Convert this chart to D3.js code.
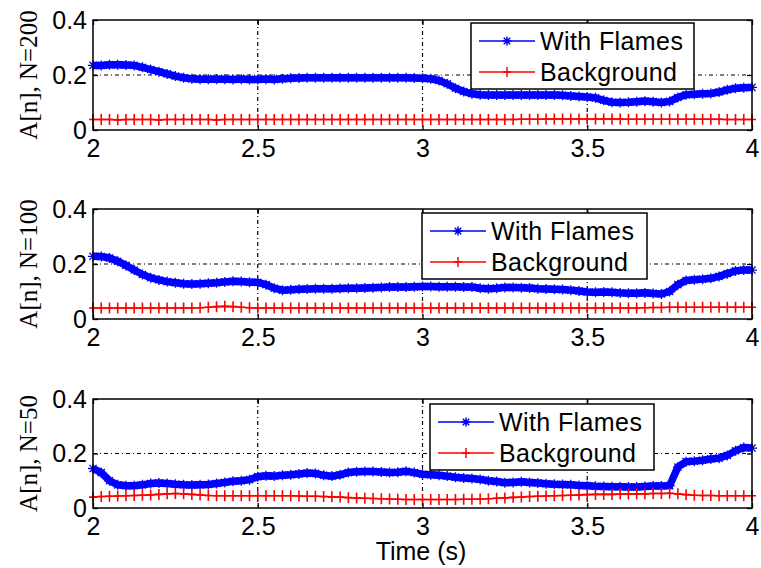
<!DOCTYPE html>
<html lang="en">
<head>
<meta charset="utf-8">
<title>A[n] with flames vs background</title>
<script src="https://cdn.jsdelivr.net/npm/d3@7"></script>
<style>
  body { margin: 0; background: #fff; }
  svg text { fill: #000; }
</style>
</head>
<body>
<script>
// time base: 2 s to 4 s, one sample every 0.025 s (81 samples)
var time = d3.range(81).map(function(i){ return 2 + i * 0.025; });

var xTicks = [2, 2.5, 3, 3.5, 4];
var yTicks = [0, 0.2, 0.4];
var seriesNames = ["With Flames", "Background"];
var panelLabels = ["A[n], N=200", "A[n], N=100", "A[n], N=50"];

// N=200
var flames200 = [0.235,0.235,0.237,0.237,0.236,0.235,0.228,0.220,0.212,0.204,
  0.196,0.190,0.186,0.185,0.185,0.185,0.185,0.184,0.185,0.184,
  0.184,0.185,0.184,0.186,0.188,0.189,0.190,0.190,0.190,0.190,
  0.190,0.190,0.190,0.190,0.190,0.190,0.190,0.190,0.190,0.189,
  0.188,0.186,0.180,0.168,0.152,0.140,0.132,0.128,0.127,0.127,
  0.127,0.127,0.127,0.127,0.127,0.127,0.127,0.126,0.124,0.122,
  0.120,0.117,0.108,0.101,0.100,0.101,0.103,0.105,0.103,0.100,
  0.104,0.118,0.128,0.130,0.132,0.133,0.138,0.146,0.152,0.154,0.155];
var background200 = [0.038,0.038,0.038,0.037,0.038,0.038,0.038,0.038,0.037,0.038,
  0.038,0.038,0.038,0.038,0.038,0.037,0.038,0.038,0.038,0.038,
  0.038,0.038,0.038,0.038,0.038,0.038,0.038,0.038,0.038,0.038,
  0.038,0.038,0.038,0.038,0.038,0.038,0.038,0.038,0.038,0.038,
  0.038,0.038,0.038,0.038,0.038,0.038,0.038,0.038,0.038,0.038,
  0.038,0.038,0.039,0.039,0.039,0.040,0.040,0.040,0.040,0.040,
  0.040,0.040,0.040,0.040,0.040,0.039,0.039,0.039,0.039,0.039,
  0.039,0.039,0.039,0.039,0.039,0.039,0.039,0.038,0.038,0.038,0.038];

// N=100
var flames100 = [0.228,0.227,0.222,0.210,0.195,0.178,0.162,0.150,0.142,0.136,
  0.132,0.128,0.127,0.128,0.130,0.132,0.135,0.137,0.136,0.134,
  0.133,0.125,0.112,0.105,0.106,0.108,0.109,0.110,0.110,0.110,
  0.111,0.112,0.112,0.113,0.114,0.115,0.116,0.116,0.116,0.117,
  0.118,0.118,0.117,0.117,0.117,0.116,0.116,0.112,0.110,0.112,
  0.115,0.115,0.114,0.113,0.110,0.109,0.108,0.107,0.105,0.102,
  0.098,0.097,0.098,0.097,0.095,0.094,0.094,0.095,0.093,0.091,
  0.100,0.125,0.140,0.143,0.145,0.148,0.155,0.165,0.175,0.178,0.178];
var background100 = [0.040,0.040,0.040,0.040,0.040,0.040,0.040,0.040,0.040,0.040,
  0.040,0.040,0.040,0.041,0.043,0.045,0.046,0.045,0.043,0.041,
  0.040,0.040,0.040,0.040,0.040,0.040,0.040,0.040,0.040,0.040,
  0.040,0.040,0.040,0.040,0.040,0.040,0.040,0.040,0.040,0.040,
  0.040,0.040,0.040,0.040,0.040,0.040,0.040,0.040,0.040,0.040,
  0.040,0.040,0.040,0.040,0.040,0.040,0.040,0.040,0.040,0.040,
  0.040,0.040,0.040,0.040,0.040,0.040,0.040,0.041,0.042,0.042,
  0.043,0.043,0.043,0.043,0.043,0.043,0.043,0.043,0.043,0.043,0.043];

// N=50
var flames50 = [0.145,0.130,0.100,0.085,0.082,0.082,0.085,0.090,0.092,0.090,
  0.087,0.085,0.084,0.085,0.086,0.090,0.094,0.098,0.100,0.104,
  0.115,0.118,0.117,0.120,0.122,0.125,0.128,0.127,0.120,0.117,
  0.122,0.130,0.133,0.134,0.134,0.132,0.130,0.131,0.135,0.130,
  0.124,0.122,0.120,0.117,0.113,0.110,0.108,0.105,0.100,0.097,
  0.093,0.094,0.096,0.094,0.092,0.089,0.087,0.086,0.085,0.083,
  0.082,0.080,0.079,0.078,0.078,0.077,0.077,0.079,0.081,0.081,
  0.082,0.150,0.170,0.172,0.175,0.180,0.183,0.193,0.210,0.222,0.220];
var background50 = [0.040,0.042,0.043,0.044,0.045,0.046,0.047,0.048,0.050,0.052,
  0.053,0.052,0.050,0.048,0.046,0.045,0.045,0.045,0.045,0.045,
  0.045,0.045,0.045,0.045,0.045,0.044,0.043,0.043,0.042,0.041,
  0.040,0.038,0.037,0.036,0.035,0.034,0.033,0.032,0.031,0.031,
  0.031,0.031,0.031,0.031,0.031,0.032,0.032,0.033,0.034,0.036,
  0.037,0.039,0.040,0.042,0.043,0.044,0.045,0.046,0.047,0.048,
  0.049,0.050,0.050,0.050,0.051,0.051,0.052,0.052,0.053,0.053,
  0.054,0.052,0.049,0.047,0.046,0.046,0.045,0.045,0.045,0.045,0.045];

var flamesData = [flames200, flames100, flames50];
var backgroundData = [background200, background100, background50];

// layout of the three axes boxes and their legends
var left = 93, right = 752;
var panels = [
  {top: 20,  bottom: 130, legX: 471, legY: 23,  legW: 223},
  {top: 209, bottom: 319, legX: 422, legY: 213, legW: 225},
  {top: 399, bottom: 508, legX: 430, legY: 404, legW: 224}
];
var blue = "#0000ff", red = "#ff0000";
var sans = "'Liberation Sans', Arial, sans-serif";
var serif = "'Liberation Serif', 'Times New Roman', serif";

var svg = d3.select("body").append("svg")
  .attr("width", 761)
  .attr("height", 568);

var x = d3.scaleLinear().domain([2, 4]).range([left, right]);

// draw one asterisk / plus marker
function starPath(px, py, r){
  var d = r * 0.72;
  return "M"+(px-r)+","+py+"H"+(px+r)+"M"+px+","+(py-r)+"V"+(py+r)+
    "M"+(px-d)+","+(py-d)+"L"+(px+d)+","+(py+d)+
    "M"+(px-d)+","+(py+d)+"L"+(px+d)+","+(py-d);
}
function plusPath(px, py, w, h){
  return "M"+(px-w)+","+py+"H"+(px+w)+"M"+px+","+(py-h)+"V"+(py+h);
}

panels.forEach(function(p, k){
  var y = d3.scaleLinear().domain([0, 0.4]).range([p.bottom, p.top]);
  var g = svg.append("g");

  // grid
  g.selectAll(".vgrid").data([2.5, 3, 3.5]).enter().append("line")
    .attr("x1", function(d){ return x(d); })
    .attr("x2", function(d){ return x(d); })
    .attr("y1", p.top).attr("y2", p.bottom)
    .attr("stroke", "#000").attr("stroke-width", 1.2)
    .attr("stroke-dasharray", "4,3,1,3");
  g.append("line")
    .attr("x1", left).attr("x2", right)
    .attr("y1", y(0.2)).attr("y2", y(0.2))
    .attr("stroke", "#000").attr("stroke-width", 1.2)
    .attr("stroke-dasharray", "4,3,1,3");

  var line = d3.line()
    .x(function(d, i){ return x(time[i]); })
    .y(function(d){ return y(d); });

  // with flames
  var fl = flamesData[k];
  g.append("path").datum(fl)
    .attr("d", line)
    .attr("fill", "none").attr("stroke", blue).attr("stroke-width", 7.5);
  g.append("path")
    .attr("d", fl.map(function(d, i){ return starPath(x(time[i]), y(d), 5); }).join(""))
    .attr("fill", "none").attr("stroke", blue).attr("stroke-width", 1.3);

  // background
  var bg = backgroundData[k];
  g.append("path").datum(bg)
    .attr("d", line)
    .attr("fill", "none").attr("stroke", red).attr("stroke-width", 1.6);
  g.append("path")
    .attr("d", bg.map(function(d, i){ return plusPath(x(time[i]), y(d), 4, 5.5); }).join(""))
    .attr("fill", "none").attr("stroke", red).attr("stroke-width", 1.6);

  // axes
  var ax = d3.axisBottom(x).tickValues(xTicks).tickSizeInner(-5).tickSizeOuter(0)
    .tickPadding(9).tickFormat(function(d){ return d; });
  var axB = g.append("g").attr("transform", "translate(0," + p.bottom + ")").call(ax);
  var axT = g.append("g").attr("transform", "translate(0," + p.top + ")")
    .call(d3.axisTop(x).tickValues(xTicks).tickSizeInner(-5).tickSizeOuter(0).tickFormat(""));
  var ay = d3.axisLeft(y).tickValues(yTicks).tickSizeInner(-5).tickSizeOuter(0)
    .tickPadding(6).tickFormat(function(d){ return d; });
  var axL = g.append("g").attr("transform", "translate(" + left + ",0)").call(ay);
  var axR = g.append("g").attr("transform", "translate(" + right + ",0)")
    .call(d3.axisRight(y).tickValues(yTicks).tickSizeInner(-5).tickSizeOuter(0).tickFormat(""));
  [axB, axT, axL, axR].forEach(function(a){
    a.select(".domain").remove();
    a.selectAll("line").attr("stroke", "#000").attr("stroke-width", 1.3);
    a.selectAll("text").attr("font-family", sans).attr("font-size", 25).attr("fill", "#000");
  });

  // box
  g.append("rect")
    .attr("x", left).attr("y", p.top)
    .attr("width", right - left).attr("height", p.bottom - p.top)
    .attr("fill", "none").attr("stroke", "#000").attr("stroke-width", 1.5);

  // y label
  g.append("text")
    .attr("transform", "translate(37," + ((p.top + p.bottom) / 2) + ") rotate(-90)")
    .attr("text-anchor", "middle")
    .attr("font-family", serif).attr("font-size", 25)
    .text(panelLabels[k]);

  // legend
  var lg = g.append("g").attr("transform", "translate(" + p.legX + "," + p.legY + ")");
  lg.append("rect").attr("width", p.legW).attr("height", 66)
    .attr("fill", "#fff").attr("stroke", "#000").attr("stroke-width", 1.5);
  seriesNames.forEach(function(name, j){
    var ly = 18 + j * 31;
    var col = j === 0 ? blue : red;
    lg.append("line").attr("x1", 8).attr("x2", 64).attr("y1", ly).attr("y2", ly)
      .attr("stroke", col).attr("stroke-width", 1.5);
    lg.append("path")
      .attr("d", j === 0 ? starPath(36, ly, 4.5) : plusPath(36, ly, 4, 5))
      .attr("fill", "none").attr("stroke", col).attr("stroke-width", 1.5);
    lg.append("text").attr("x", 69).attr("y", ly + 9)
      .attr("font-family", sans).attr("font-size", 25)
      .attr("letter-spacing", 0.4)
      .text(name);
  });
});

// x label
svg.append("text")
  .attr("x", 421).attr("y", 560)
  .attr("text-anchor", "middle")
  .attr("font-family", sans).attr("font-size", 25)
  .text("Time (s)");
</script>
</body>
</html>
